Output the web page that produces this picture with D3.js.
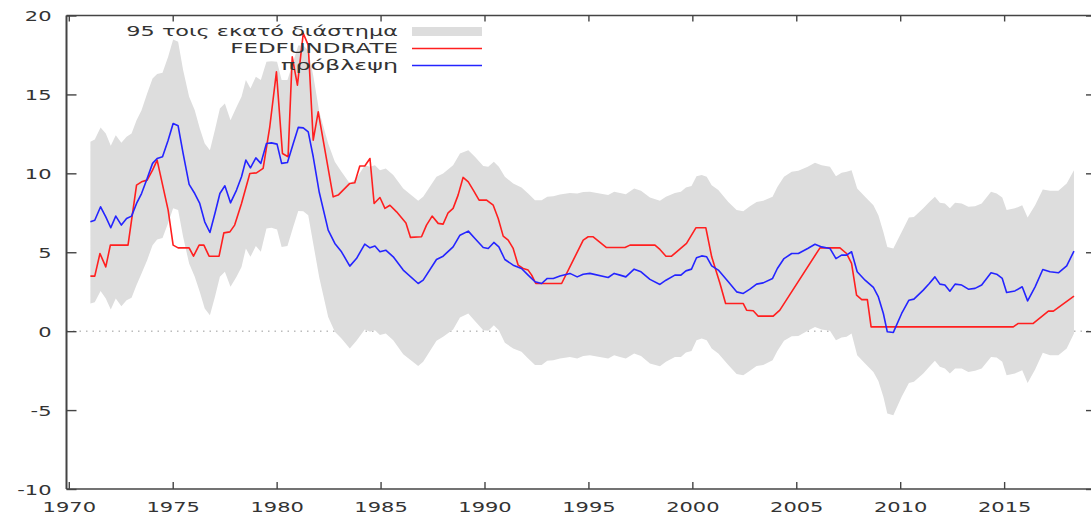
<!DOCTYPE html>
<html>
<head>
<meta charset="utf-8">
<script src="https://cdn.jsdelivr.net/npm/d3@7"></script>
<style>
  html, body { margin: 0; padding: 0; background: #fff; }
  svg { display: block; }
  text { font-family: "DejaVu Sans", sans-serif; fill: #333; }
</style>
</head>
<body>
<svg id="chart" width="1091" height="516"></svg>
<script>
// ---- data -------------------------------------------------------------
// Forecast (πρόβλεψη): decimal year and value
const fcDates = [1971.04,1971.25,1971.53,1971.78,1972.02,1972.26,1972.53,1972.78,1973.02,1973.26,1973.5,1973.77,1974.03,1974.25,1974.51,1974.78,1975.02,1975.26,1975.5,1975.79,1976.06,1976.3,1976.54,1976.79,1977.03,1977.27,1977.51,1977.78,1978.07,1978.31,1978.52,1978.74,1979.0,1979.24,1979.51,1979.75,1980.02,1980.24,1980.52,1980.8,1981.04,1981.28,1981.52,1981.76,1982.05,1982.48,1982.8,1983.12,1983.52,1983.84,1984.24,1984.49,1984.73,1984.97,1985.25,1985.61,1986.09,1986.81,1987.05,1987.69,1988.01,1988.49,1988.82,1989.22,1989.54,1989.94,1990.18,1990.45,1990.69,1990.98,1991.38,1991.78,1992.1,1992.43,1992.75,1993.02,1993.31,1993.63,1994.11,1994.46,1994.75,1995.07,1995.95,1996.24,1996.52,1996.8,1997.2,1997.53,1997.96,1998.44,1998.73,1999.16,1999.45,1999.69,1999.96,2000.2,2000.45,2000.69,2000.93,2001.25,2001.73,2002.13,2002.45,2002.77,2003.09,2003.41,2003.86,2004.09,2004.41,2004.78,2005.1,2005.55,2005.9,2006.22,2006.62,2006.91,2007.18,2007.42,2007.66,2007.93,2008.31,2008.71,2008.95,2009.19,2009.38,2009.67,2010.07,2010.42,2010.66,2011.11,2011.4,2011.67,2011.91,2012.15,2012.39,2012.64,2012.96,2013.28,2013.6,2013.92,2014.37,2014.64,2014.91,2015.12,2015.52,2015.87,2016.13,2016.49,2016.86,2017.21,2017.61,2018.01,2018.36];
const fcValues = [6.93,7.03,7.88,7.24,6.55,7.29,6.72,7.14,7.29,8.09,8.72,9.67,10.63,10.94,11.05,12.1,13.16,13.01,11.26,9.3,8.72,8.09,6.93,6.25,7.46,8.72,9.21,8.13,8.94,9.78,10.84,10.35,10.98,10.63,11.89,11.93,11.85,10.63,10.69,11.89,12.91,12.88,12.63,11.05,8.8,6.4,5.56,5.03,4.12,4.6,5.51,5.28,5.39,5.03,5.13,4.71,3.87,3.02,3.23,4.54,4.75,5.34,6.08,6.34,5.87,5.3,5.24,5.62,5.34,4.54,4.18,3.97,3.55,3.13,3.02,3.34,3.34,3.49,3.66,3.44,3.61,3.66,3.4,3.66,3.55,3.44,3.93,3.76,3.28,2.96,3.23,3.55,3.55,3.82,3.93,4.65,4.77,4.71,4.14,3.87,3.13,2.49,2.39,2.66,2.98,3.06,3.34,3.97,4.6,4.92,4.92,5.24,5.51,5.34,5.24,4.6,4.82,4.82,5.03,3.76,3.23,2.77,2.17,1.12,-0.04,-0.08,1.12,1.96,2.03,2.6,3.02,3.44,2.98,2.92,2.53,2.98,2.92,2.66,2.71,2.92,3.7,3.61,3.34,2.45,2.55,2.81,1.92,2.81,3.91,3.76,3.7,4.14,5.07];

// 95% interval, upper and lower edges (same dates as the forecast)
const bandUpper = [12.0,12.15,12.91,12.53,11.74,12.42,11.93,12.31,12.53,13.37,14.0,15.06,16.01,16.29,16.37,17.38,18.48,18.33,16.54,14.85,14.0,12.85,11.89,11.47,12.74,14.11,14.43,13.37,14.21,14.85,15.91,15.38,16.12,15.91,17.07,17.1,17.07,15.91,15.91,17.07,18.1,18.1,17.8,16.2,13.9,11.89,10.73,10.1,9.36,9.67,10.52,10.41,10.52,10.2,10.31,9.89,9.04,8.26,8.51,9.78,9.99,10.52,11.26,11.47,11.05,10.46,10.41,10.73,10.41,9.78,9.36,9.11,8.72,8.3,8.3,8.51,8.55,8.66,8.76,8.72,8.81,8.83,8.62,8.83,8.76,8.68,9.04,8.89,8.47,8.26,8.51,8.76,8.83,9.11,9.19,9.82,9.89,9.78,9.25,8.94,8.19,7.67,7.6,7.92,8.19,8.26,8.51,9.14,9.78,10.1,10.16,10.41,10.67,10.52,10.41,9.82,10.03,10.1,10.2,9.04,8.51,7.98,7.35,6.29,5.34,5.24,6.29,7.2,7.24,7.78,8.19,8.51,8.13,8.09,7.78,8.13,8.09,7.88,7.92,8.09,8.83,8.72,8.47,7.67,7.78,7.98,7.2,7.98,8.98,8.89,8.89,9.36,10.2];
const bandLower = [1.75,1.84,2.55,2.07,1.37,2.07,1.58,1.96,2.11,2.92,3.66,4.5,5.45,5.81,5.91,6.86,7.78,7.67,5.98,4.29,3.44,2.49,1.44,1.01,2.17,3.44,3.76,2.81,3.44,4.07,5.24,4.71,5.39,5.03,6.51,6.55,6.44,5.34,5.39,6.61,7.62,7.6,7.35,5.56,3.4,0.9,-0.04,-0.46,-1.1,-0.61,0.1,-0.04,0.06,-0.25,-0.15,-0.57,-1.46,-2.2,-1.94,-0.61,-0.36,0.1,0.87,1.12,0.65,0.06,0.02,0.38,0.06,-0.74,-1.1,-1.31,-1.73,-2.15,-2.15,-1.88,-1.84,-1.73,-1.63,-1.73,-1.58,-1.52,-1.73,-1.52,-1.63,-1.73,-1.41,-1.58,-2.05,-2.22,-1.94,-1.63,-1.63,-1.35,-1.25,-0.57,-0.46,-0.57,-1.1,-1.41,-2.15,-2.72,-2.79,-2.51,-2.2,-2.15,-1.84,-1.25,-0.61,-0.32,-0.3,0.02,0.27,0.1,0.02,-0.57,-0.4,-0.36,-0.15,-1.52,-2.05,-2.58,-3.15,-4.16,-5.22,-5.32,-4.16,-3.28,-3.21,-2.68,-2.26,-1.88,-2.26,-2.37,-2.68,-2.37,-2.37,-2.58,-2.51,-2.37,-1.63,-1.67,-1.94,-2.79,-2.68,-2.47,-3.28,-2.43,-1.37,-1.52,-1.52,-1.1,-0.15];

// Effective federal funds rate (FEDFUNDRATE)
const ffDates = [1971.04,1971.25,1971.5,1971.78,1972.0,1972.85,1973.26,1973.5,1973.77,1974.03,1974.25,1974.78,1975.02,1975.26,1975.79,1976.0,1976.27,1976.5,1976.75,1977.23,1977.46,1977.75,1977.98,1978.31,1978.71,1979.03,1979.35,1979.67,1979.99,1980.28,1980.55,1980.75,1981.0,1981.28,1981.52,1981.76,1982.0,1982.72,1982.96,1983.52,1983.76,1984.0,1984.24,1984.49,1984.69,1984.97,1985.21,1985.45,1985.77,1986.22,1986.44,1986.97,1987.21,1987.48,1987.77,1988.01,1988.25,1988.49,1988.73,1988.97,1989.22,1989.46,1989.74,1990.1,1990.42,1990.66,1990.9,1991.14,1991.38,1991.62,1991.86,1992.1,1992.27,1992.47,1993.71,1994.27,1994.75,1994.99,1995.23,1995.87,1996.76,1997.0,1998.2,1998.44,1998.73,1999.0,1999.72,2000.17,2000.65,2000.93,2001.33,2001.6,2002.45,2002.61,2002.93,2003.17,2003.89,2004.21,2006.14,2007.1,2007.42,2007.66,2007.9,2008.15,2008.42,2008.6,2015.44,2015.68,2016.4,2017.13,2017.37,2018.36];
const ffValues = [3.49,3.49,4.92,4.07,5.45,5.45,9.25,9.46,9.57,10.2,10.84,7.67,5.45,5.28,5.28,4.75,5.45,5.45,4.75,4.75,6.23,6.29,6.72,8.09,9.99,10.03,10.31,12.95,16.43,11.26,11.05,17.38,15.59,18.87,18.12,12.1,13.9,8.51,8.62,9.36,9.4,10.46,10.46,10.94,8.09,8.47,7.78,7.98,7.56,6.86,5.94,5.98,6.72,7.29,6.83,6.78,7.5,7.78,8.62,9.74,9.46,8.94,8.3,8.3,7.98,7.14,6.02,5.77,5.24,4.18,3.97,3.87,3.55,3.02,3.02,4.5,5.77,5.98,5.98,5.3,5.3,5.45,5.45,5.18,4.75,4.75,5.56,6.55,6.55,4.71,3.02,1.75,1.75,1.33,1.29,0.95,0.95,1.33,5.28,5.28,4.92,4.29,2.28,2.0,2.0,0.27,0.27,0.49,0.49,1.27,1.27,2.22];

const xTicks = [1970,1975,1980,1985,1990,1995,2000,2005,2010,2015];
const yTicks = [-10,-5,0,5,10,15,20];
const legendLabels = ["95 τοις εκατό διάστημα", "FEDFUNDRATE", "πρόβλεψη"];

// ---- layout -----------------------------------------------------------
const plot = { left: 66.5, right: 1096, top: 15.5, bottom: 489 };
const x = d3.scaleLinear().domain([1969.89, 2019.42]).range([plot.left, plot.right]);
const y = d3.scaleLinear().domain([-10, 20]).range([plot.bottom, plot.top]);

const svg = d3.select("#chart");
const axisColor = "#444";
const textStretch = 1.5;   // glyphs in this chart are drawn horizontally widened

function stretch(sel, sx) {
  sel.each(function () {
    const t = d3.select(this);
    const tx = +t.attr("x"), ty = +t.attr("y");
    t.attr("transform", `translate(${tx},${ty}) scale(${sx},1) translate(${-tx},${-ty})`);
  });
}

// zero reference line (dotted), under the band
svg.append("line")
  .attr("x1", plot.left).attr("x2", plot.right)
  .attr("y1", y(0)).attr("y2", y(0))
  .attr("stroke", "#9a9a9a").attr("stroke-width", 1)
  .attr("stroke-dasharray", "1.5,5");

// 95% interval band
const bandData = fcDates.map((d, i) => ({ t: d, lo: bandLower[i], hi: bandUpper[i] }));
svg.append("path")
  .datum(bandData)
  .attr("fill", "#dddddd")
  .attr("d", d3.area().x(d => x(d.t)).y0(d => y(d.lo)).y1(d => y(d.hi)));

// FEDFUNDRATE line
const ffData = ffDates.map((d, i) => ({ t: d, v: ffValues[i] }));
svg.append("path")
  .datum(ffData)
  .attr("fill", "none").attr("stroke", "#ff1f1f").attr("stroke-width", 1.6)
  .attr("stroke-linejoin", "round")
  .attr("d", d3.line().x(d => x(d.t)).y(d => y(d.v)));

// forecast line
const fcData = fcDates.map((d, i) => ({ t: d, v: fcValues[i] }));
svg.append("path")
  .datum(fcData)
  .attr("fill", "none").attr("stroke", "#2424ff").attr("stroke-width", 1.6)
  .attr("stroke-linejoin", "round")
  .attr("d", d3.line().x(d => x(d.t)).y(d => y(d.v)));

// ---- frame & axes -----------------------------------------------------
const frame = svg.append("g");
frame.append("line").attr("x1", plot.left).attr("x2", plot.right).attr("y1", plot.bottom).attr("y2", plot.bottom)
  .attr("stroke", axisColor).attr("stroke-width", 1.4);
frame.append("line").attr("x1", plot.left).attr("x2", plot.right).attr("y1", plot.top).attr("y2", plot.top)
  .attr("stroke", axisColor).attr("stroke-width", 1.4);
frame.append("line").attr("x1", plot.left).attr("x2", plot.left).attr("y1", plot.top).attr("y2", plot.bottom)
  .attr("stroke", axisColor).attr("stroke-width", 2);
frame.append("line").attr("x1", plot.right).attr("x2", plot.right).attr("y1", plot.top).attr("y2", plot.bottom)
  .attr("stroke", axisColor).attr("stroke-width", 2);

// x axis: ticks pointing inward, mirrored at the top
const xAxisBottom = d3.axisBottom(x).tickValues(xTicks).tickSize(-7).tickSizeOuter(0).tickPadding(13).tickFormat(d3.format("d"));
const gx = svg.append("g").attr("transform", `translate(0,${plot.bottom})`).call(xAxisBottom);
gx.select(".domain").remove();
gx.selectAll(".tick line").attr("stroke", axisColor).attr("stroke-width", 1.4);
gx.selectAll(".tick text").attr("font-size", 14).attr("fill", "#333").attr("y", 23).attr("dy", 0)
  .each(function () { d3.select(this).attr("x", 0); });
gx.selectAll(".tick text").call(stretch, textStretch);

const xAxisTop = d3.axisTop(x).tickValues(xTicks).tickSize(-6).tickSizeOuter(0).tickFormat("");
const gxt = svg.append("g").attr("transform", `translate(0,${plot.top})`).call(xAxisTop);
gxt.select(".domain").remove();
gxt.selectAll(".tick line").attr("stroke", axisColor).attr("stroke-width", 1.4);

// y axis: ticks pointing inward, mirrored at the right
const yAxisLeft = d3.axisLeft(y).tickValues(yTicks).tickSize(-10).tickSizeOuter(0).tickPadding(14).tickFormat(d => String(d));
const gy = svg.append("g").attr("transform", `translate(${plot.left},0)`).call(yAxisLeft);
gy.select(".domain").remove();
gy.selectAll(".tick line").attr("stroke", axisColor).attr("stroke-width", 1.4);
gy.selectAll(".tick text").attr("font-size", 14).attr("fill", "#333")
  .attr("x", -15).attr("y", 5).attr("dy", 0).attr("text-anchor", "end");
gy.selectAll(".tick text").call(stretch, textStretch);

const yAxisRight = d3.axisRight(y).tickValues(yTicks).tickSize(-10).tickSizeOuter(0).tickFormat("");
const gyr = svg.append("g").attr("transform", `translate(${plot.right},0)`).call(yAxisRight);
gyr.select(".domain").remove();
gyr.selectAll(".tick line").attr("stroke", axisColor).attr("stroke-width", 1.4);

// ---- legend -----------------------------------------------------------
const legend = { textRight: 398, sampleX0: 412, sampleX1: 482, rowY: [31.5, 48.5, 65.5], widths: [272, 168, 117] };
const lg = svg.append("g");
lg.append("rect")
  .attr("x", legend.sampleX0).attr("y", legend.rowY[0] - 4.5)
  .attr("width", legend.sampleX1 - legend.sampleX0).attr("height", 9)
  .attr("fill", "#dddddd");
lg.append("line")
  .attr("x1", legend.sampleX0).attr("x2", legend.sampleX1)
  .attr("y1", legend.rowY[1]).attr("y2", legend.rowY[1])
  .attr("stroke", "#ff1f1f").attr("stroke-width", 1.6);
lg.append("line")
  .attr("x1", legend.sampleX0).attr("x2", legend.sampleX1)
  .attr("y1", legend.rowY[2]).attr("y2", legend.rowY[2])
  .attr("stroke", "#2424ff").attr("stroke-width", 1.6);

legendLabels.forEach((label, i) => {
  const t = lg.append("text")
    .attr("x", legend.textRight).attr("y", legend.rowY[i] + 5)
    .attr("text-anchor", "end").attr("font-size", 14).attr("fill", "#333")
    .text(label);
  const w = t.node().getComputedTextLength();
  t.call(stretch, legend.widths[i] / w);
});
</script>
</body>
</html>
